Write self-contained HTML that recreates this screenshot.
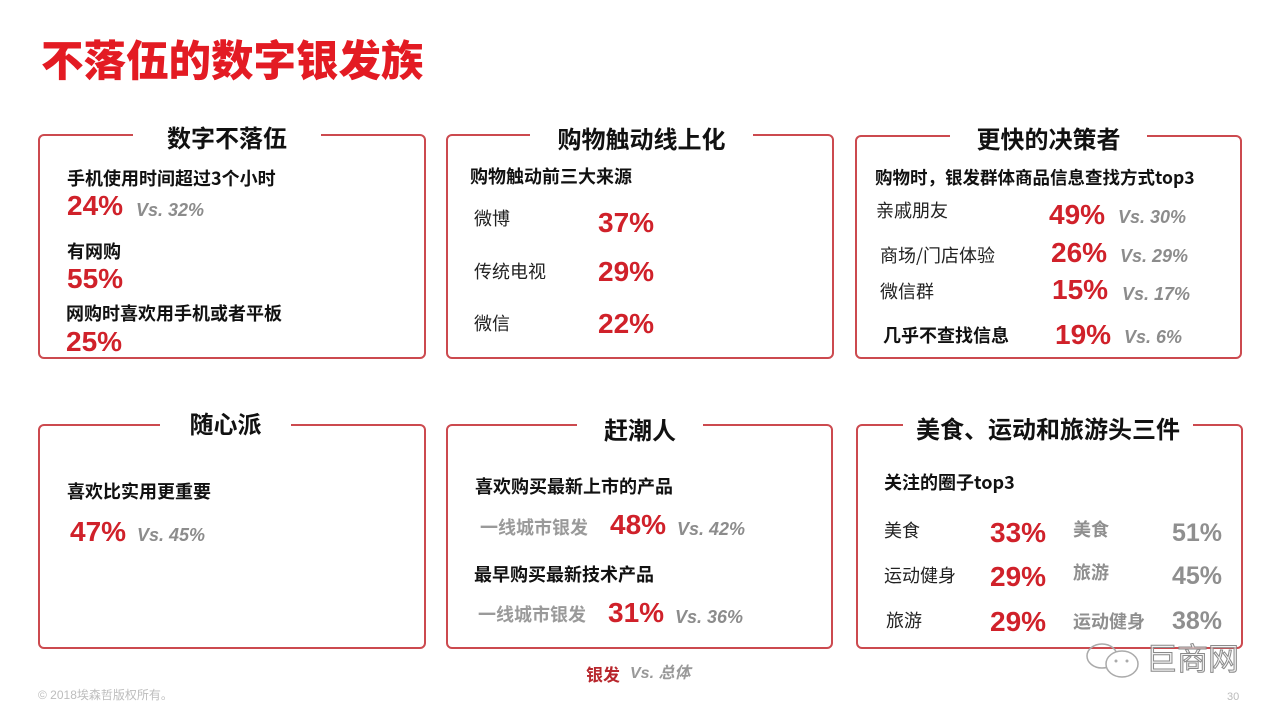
<!DOCTYPE html>
<html>
<head>
<meta charset="utf-8">
<style>
html,body{margin:0;padding:0;}
body{width:1280px;height:716px;position:relative;background:#fff;overflow:hidden;
font-family:"Liberation Sans","Noto Sans CJK SC",sans-serif;}
.t{position:absolute;white-space:nowrap;line-height:1;}
.box{position:absolute;border:2px solid #cc4a4f;border-radius:6px;box-sizing:border-box;background:#fff;}
.bt{position:absolute;background:#fff;text-align:center;font-size:24px;font-weight:bold;color:#111;line-height:1;
font-family:"Noto Sans CJK SC",sans-serif;}
.h{font-size:18px;font-weight:bold;color:#111;font-family:"Noto Sans CJK SC",sans-serif;}
.r{font-size:18px;font-weight:normal;color:#222;font-family:"Noto Sans CJK SC",sans-serif;}
.g{font-size:18px;font-weight:bold;color:#9a9a9a;font-family:"Noto Sans CJK SC",sans-serif;}
.p{font-size:28px;font-weight:bold;color:#d0212a;font-family:"Liberation Sans",sans-serif;}
.pg{font-size:25px;font-weight:bold;color:#8f8f8f;font-family:"Liberation Sans",sans-serif;}
.v{font-size:18px;font-weight:bold;font-style:italic;color:#8c8c8c;font-family:"Liberation Sans",sans-serif;}
</style>
</head>
<body>
<div class="t" style="left:41px;top:38px;font-size:42.5px;font-weight:900;color:#e31b23;font-family:'Noto Sans CJK SC',sans-serif;">不落伍的数字银发族</div>

<!-- Box 1 -->
<div class="box" style="left:38px;top:134px;width:388px;height:225px;"></div>
<div class="bt" style="left:133px;top:125px;width:188px;">数字不落伍</div>
<div class="t h" style="left:67px;top:169px;">手机使用时间超过3个小时</div>
<div class="t p" style="left:67px;top:192px;">24%</div>
<div class="t v" style="left:136px;top:201px;">Vs. 32%</div>
<div class="t h" style="left:67px;top:242px;">有网购</div>
<div class="t p" style="left:67px;top:265px;">55%</div>
<div class="t h" style="left:66px;top:304px;">网购时喜欢用手机或者平板</div>
<div class="t p" style="left:66px;top:328px;">25%</div>

<!-- Box 2 -->
<div class="box" style="left:446px;top:134px;width:388px;height:225px;"></div>
<div class="bt" style="left:530px;top:126px;width:223px;">购物触动线上化</div>
<div class="t h" style="left:470px;top:167px;">购物触动前三大来源</div>
<div class="t r" style="left:474px;top:209px;">微博</div>
<div class="t p" style="left:598px;top:209px;">37%</div>
<div class="t r" style="left:474px;top:262px;">传统电视</div>
<div class="t p" style="left:598px;top:258px;">29%</div>
<div class="t r" style="left:474px;top:314px;">微信</div>
<div class="t p" style="left:598px;top:310px;">22%</div>

<!-- Box 3 -->
<div class="box" style="left:855px;top:135px;width:387px;height:224px;"></div>
<div class="bt" style="left:950px;top:126px;width:197px;">更快的决策者</div>
<div class="t h" style="left:875px;top:169px;font-size:17.5px;">购物时，银发群体商品信息查找方式top3</div>
<div class="t r" style="left:876px;top:201px;">亲戚朋友</div>
<div class="t p" style="left:1049px;top:201px;">49%</div>
<div class="t v" style="left:1118px;top:208px;">Vs. 30%</div>
<div class="t r" style="left:880px;top:246px;">商场/门店体验</div>
<div class="t p" style="left:1051px;top:239px;">26%</div>
<div class="t v" style="left:1120px;top:247px;">Vs. 29%</div>
<div class="t r" style="left:880px;top:282px;">微信群</div>
<div class="t p" style="left:1052px;top:276px;">15%</div>
<div class="t v" style="left:1122px;top:285px;">Vs. 17%</div>
<div class="t h" style="left:883px;top:326px;">几乎不查找信息</div>
<div class="t p" style="left:1055px;top:321px;">19%</div>
<div class="t v" style="left:1124px;top:328px;">Vs. 6%</div>

<!-- Box 4 -->
<div class="box" style="left:38px;top:424px;width:388px;height:225px;"></div>
<div class="bt" style="left:160px;top:411px;width:131px;">随心派</div>
<div class="t h" style="left:67px;top:482px;">喜欢比实用更重要</div>
<div class="t p" style="left:70px;top:518px;">47%</div>
<div class="t v" style="left:137px;top:526px;">Vs. 45%</div>

<!-- Box 5 -->
<div class="box" style="left:446px;top:424px;width:387px;height:225px;"></div>
<div class="bt" style="left:577px;top:417px;width:126px;">赶潮人</div>
<div class="t h" style="left:475px;top:477px;">喜欢购买最新上市的产品</div>
<div class="t g" style="left:480px;top:518px;">一线城市银发</div>
<div class="t p" style="left:610px;top:511px;">48%</div>
<div class="t v" style="left:677px;top:520px;">Vs. 42%</div>
<div class="t h" style="left:474px;top:565px;">最早购买最新技术产品</div>
<div class="t g" style="left:478px;top:605px;">一线城市银发</div>
<div class="t p" style="left:608px;top:599px;">31%</div>
<div class="t v" style="left:675px;top:608px;">Vs. 36%</div>

<!-- Box 6 -->
<div class="box" style="left:856px;top:424px;width:387px;height:225px;"></div>
<div class="bt" style="left:903px;top:416px;width:290px;">美食、运动和旅游头三件</div>
<div class="t h" style="left:884px;top:473px;">关注的圈子top3</div>
<div class="t r" style="left:884px;top:521px;">美食</div>
<div class="t p" style="left:990px;top:519px;">33%</div>
<div class="t g" style="left:1073px;top:520px;color:#8f8f8f;">美食</div>
<div class="t pg" style="left:1172px;top:521px;">51%</div>
<div class="t r" style="left:884px;top:566px;">运动健身</div>
<div class="t p" style="left:990px;top:563px;">29%</div>
<div class="t g" style="left:1073px;top:563px;color:#8f8f8f;">旅游</div>
<div class="t pg" style="left:1172px;top:564px;">45%</div>
<div class="t r" style="left:886px;top:611px;">旅游</div>
<div class="t p" style="left:990px;top:608px;">29%</div>
<div class="t g" style="left:1073px;top:612px;color:#8f8f8f;">运动健身</div>
<div class="t pg" style="left:1172px;top:609px;">38%</div>

<!-- legend -->
<div class="t" style="left:586px;top:665px;font-size:17px;font-weight:bold;color:#b8272d;font-family:'Noto Sans CJK SC',sans-serif;">银发</div>
<div class="t" style="left:630px;top:666px;font-size:16px;font-style:italic;font-weight:bold;color:#999;font-family:'Liberation Sans','Noto Sans CJK SC',sans-serif;">Vs. 总体</div>

<!-- footer -->
<div class="t" style="left:38px;top:689px;font-size:12px;color:#bdbdbd;font-family:'Liberation Sans','Noto Sans CJK SC',sans-serif;">© 2018埃森哲版权所有。</div>
<div class="t" style="left:1227px;top:692px;font-size:11px;color:#bbb;">30</div>

<!-- watermark -->
<svg style="position:absolute;left:1084px;top:640px;" width="62" height="44" viewBox="0 0 62 44">
  <ellipse cx="18" cy="16" rx="15" ry="12" fill="none" stroke="#aaa" stroke-width="1.5"/>
  <ellipse cx="38" cy="24" rx="16" ry="13" fill="#fff" stroke="#aaa" stroke-width="1.5"/>
  <circle cx="32" cy="21" r="1.5" fill="#aaa"/>
  <circle cx="43" cy="21" r="1.5" fill="#aaa"/>
</svg>
<div class="t" style="left:1146px;top:641px;font-size:31px;color:rgba(240,240,240,0.7);-webkit-text-stroke:1px #8a8a8a;font-family:'Noto Sans CJK SC',sans-serif;">巨商网</div>
</body>
</html>
